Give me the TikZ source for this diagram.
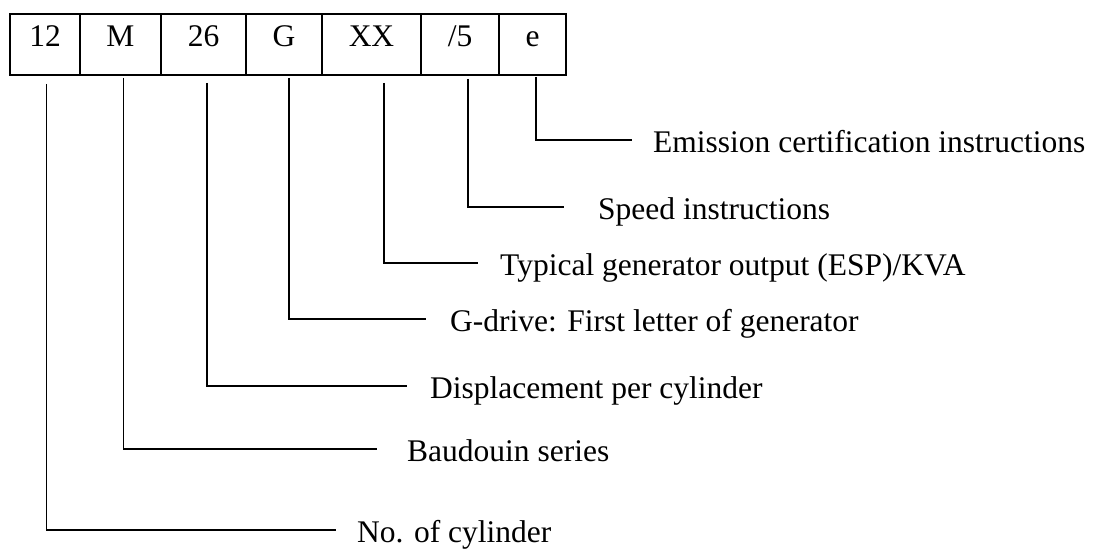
\documentclass[tikz,border=0pt]{standalone}
\usepackage{fontspec}
\setmainfont{Liberation Serif}
\usetikzlibrary{positioning}

\tikzset{
  cell/.style={draw, line width=2pt, inner sep=0pt, outer sep=0pt,
    minimum height=61pt, text height=22pt, text depth=18pt},
  lbl/.style={anchor=west, inner sep=0pt, text height=24pt, text depth=0pt},
  lead/.style={line width=1.5pt},
}

\begin{document}
\begin{tikzpicture}[x=1pt, y=-1pt, font=\fontsize{31.5}{38}\selectfont]

\useasboundingbox (0,0) rectangle (1093,551);

% the type code, one cell per field
\node[cell, minimum width=70pt, anchor=west] (c12) at (10,44.5) {12};
\node[cell, minimum width=81pt, right=0pt of c12] (cM) {M};
\node[cell, minimum width=85pt, right=0pt of cM] (c26) {26};
\node[cell, minimum width=76pt, right=0pt of c26] (cG) {G};
\node[cell, minimum width=99pt, right=0pt of cG] (cXX) {XX};
\node[cell, minimum width=78pt, right=0pt of cXX] (cSpd) {/5};
\node[cell, minimum width=67pt, right=0pt of cSpd] (cE) {e};

% meaning of each field
\node[lbl] (nEm) at (653,140) {Emission certification instructions};
\node[lbl] (nSpd) at (598,207) {Speed instructions};
\node[lbl] (nOut) at (500,263) {Typical generator output (ESP)/KVA};
\node[lbl] (nG) at (450,319) {G-drive: First letter of generator};
\node[lbl] (nDisp) at (430,386) {Displacement per cylinder};
\node[lbl] (nSer) at (407,449) {Baudouin series};
\node[lbl] (nCyl) at (357,530) {No. of cylinder};

% leader lines
\draw[lead] ([xshift=3.5pt,yshift=-2pt]cE.south) |- ([xshift=-21pt]nEm.west);
\draw[lead] ([xshift=8pt,yshift=-4pt]cSpd.south) |- ([xshift=-34pt]nSpd.west);
\draw[lead] ([xshift=12.5pt,yshift=-8pt]cXX.south) |- ([xshift=-22pt]nOut.west);
\draw[lead] ([xshift=5pt,yshift=-3pt]cG.south) |- ([xshift=-24pt]nG.west);
\draw[lead] ([xshift=3.5pt,yshift=-8pt]c26.south) |- ([xshift=-23pt]nDisp.west);
\draw[lead] ([xshift=3pt,yshift=-3pt]cM.south) |- ([xshift=-30pt]nSer.west);
\draw[lead] ([xshift=1.5pt,yshift=-9pt]c12.south) |- ([xshift=-21pt]nCyl.west);

\end{tikzpicture}
\end{document}
